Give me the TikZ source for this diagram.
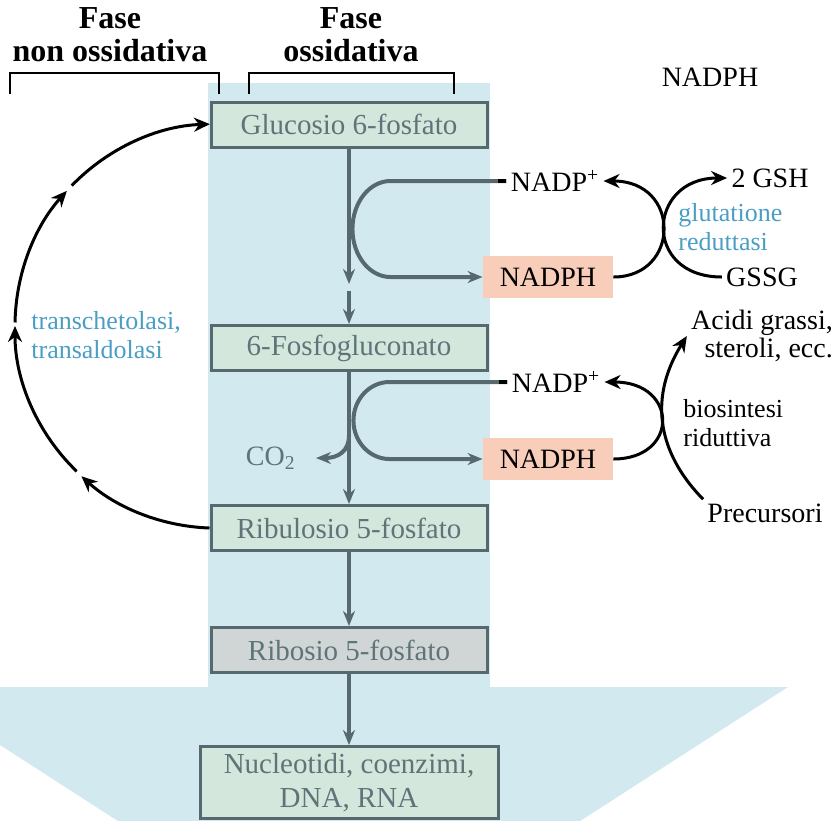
\documentclass[tikz,border=0pt]{standalone}
\usepackage{fontspec}
\setmainfont{Liberation Serif}
\usetikzlibrary{arrows.meta, positioning, calc}

\definecolor{bgblue}{HTML}{D3E9F0}
\definecolor{boxgreen}{HTML}{D4E7DC}
\definecolor{ribgray}{HTML}{D0D6D5}
\definecolor{slate}{HTML}{56696E}
\definecolor{slatetxt}{HTML}{5F7479}
\definecolor{salmon}{HTML}{F8CDB9}
\definecolor{enzblue}{HTML}{4A9EC4}

\tikzset{
  box/.style={draw=slate, line width=1.5pt, fill=boxgreen, text=slatetxt,
              minimum width=138pt, minimum height=22.5pt,
              font=\fontsize{14.5}{17}\selectfont},
  cofbox/.style={fill=salmon, minimum width=65pt, minimum height=21pt,
                 font=\fontsize{14}{14}\selectfont},
  lbl/.style={inner sep=2pt, font=\fontsize{14}{14}\selectfont},
  phase/.style={inner sep=2pt, align=center,
                font=\fontsize{16}{16.5}\selectfont\bfseries},
  enz/.style={inner sep=2pt, align=left, text=enzblue,
              font=\fontsize{13}{14.5}\selectfont},
  flow/.style={slate, line width=2pt, -{Stealth[length=7.5pt,width=6pt]}},
  rxn/.style={black, line width=1.5pt, -{Stealth[length=8pt,width=7pt]}},
  brk/.style={black, line width=1.3pt},
}

\begin{document}
\begin{tikzpicture}[x=0.5pt, y=-0.5pt]
  \useasboundingbox (0,0) rectangle (834,820);
  \begin{scope}
    \clip (0,0) rectangle (834,820);
    \fill[bgblue] (208,83) rectangle (490,688);
    \fill[bgblue] (-90,687) -- (788,687) -- (349,970) -- cycle;
  \end{scope}

  % headers
  \node[phase] (fnon) at (110,35) {Fase\\non ossidativa};
  \node[phase] (fox) at (351,35) {Fase\\ossidativa};
  \draw[brk] (10,94) |- (219,73) -- (219,94);
  \draw[brk] (249,94) |- (454,73) -- (454,94);

  \node[box] (gluc) at (349,124.5) {Glucosio 6-fosfato};
  \node[box] (fosfo) at (349,348) {6-Fosfogluconato};
  \node[box] (ribu) at (349,528) {Ribulosio 5-fosfato};
  \node[box, fill=ribgray] (ribo) at (349,650) {Ribosio 5-fosfato};
  \node[box, align=center, minimum width=149pt, minimum height=34pt] (nucl) at (349,782.5) {Nucleotidi, coenzimi,\\DNA, RNA};

  \node[lbl] (nadpt) at (710,77) {NADPH};
  \node[lbl] (nadp1) at (555,181) {NADP\textsuperscript{+}};
  \node[cofbox] (nadph1) at (548,277) {NADPH};
  \node[lbl] (gsh) at (770,178) {2 GSH};
  \node[lbl] (gssg) at (762,277) {GSSG};
  \node[enz, anchor=west] (glut) at (674,227) {glutatione\\reduttasi};

  \node[lbl] (nadp2) at (556,382) {NADP\textsuperscript{+}};
  \node[cofbox] (nadph2) at (548,459) {NADPH};
  \node[lbl, align=right] (acidi) at (762,336) {Acidi grassi,\\steroli, ecc.};
  \node[enz, text=black, anchor=west] (bios) at (679,423) {biosintesi\\riduttiva};
  \node[lbl] (prec) at (765,513) {Precursori};

  \node[enz, anchor=west] (trans) at (27,335) {transchetolasi,\\transaldolasi};
  \coordinate (co2tip) at (316,458);
  \node[lbl, text=slatetxt, left=8pt of co2tip] (co2) {CO\textsubscript{2}};

  % oxidative branch
  \coordinate (g1) at (349,284);
  \coordinate (g2) at (349,291);
  \draw[flow] (gluc.south) -- (g1);
  \draw[flow] (g2) -- (fosfo.north);
  \draw[flow] (nadp1.west) -- ++(-116,0) arc[start angle=270, end angle=90, x radius=38, y radius=48] -- (nadph1.west);
  \draw[black, line width=2pt] (nadp1.west) -- ++(-8,0);
  \draw[flow] (fosfo.south) -- (ribu.north);
  \draw[flow] (nadp2.west) -- ++(-118,0) arc[start angle=270, end angle=90, x radius=36, y radius=38.5] -- (nadph2.west);
  \draw[black, line width=2pt] (nadp2.west) -- ++(-8,0);
  \draw[flow] ($(fosfo.south)!0.48!(ribu.north)$) .. controls +(0,16) and +(22,0) .. (co2tip);
  \draw[flow] (ribu.south) -- (ribo.north);
  \draw[flow] (ribo.south) -- (nucl.north);

  % NADPH use
  \draw[rxn] (nadph1.east) .. controls +(67,0) and +(78,0) .. (nadp1.east);
  \draw[rxn] (gssg.west) .. controls +(-80,0) and +(-80,0) .. (gsh.west);
  \draw[rxn] (nadph2.east) .. controls +(66,0) and +(74,0) .. (nadp2.east);
  \draw[rxn] (prec.north west) .. controls (655,450) and (650,395) .. (acidi.west);

  % non-oxidative cycle
  \coordinate (cyc1) at ([shift={(217,326)}]134:202);
  \coordinate (cyc2) at ([shift={(217,326)}]181:202);
  \coordinate (cyc3) at ([shift={(217,326)}]224:202);
  \draw[rxn] (ribu.west) arc[start angle=92, end angle=132, radius=202];
  \draw[rxn] (cyc1) arc[start angle=134, end angle=180, radius=202];
  \draw[rxn] (cyc2) arc[start angle=181, end angle=222, radius=202];
  \draw[rxn] (cyc3) arc[start angle=224, end angle=268, radius=202];
\end{tikzpicture}
\end{document}
